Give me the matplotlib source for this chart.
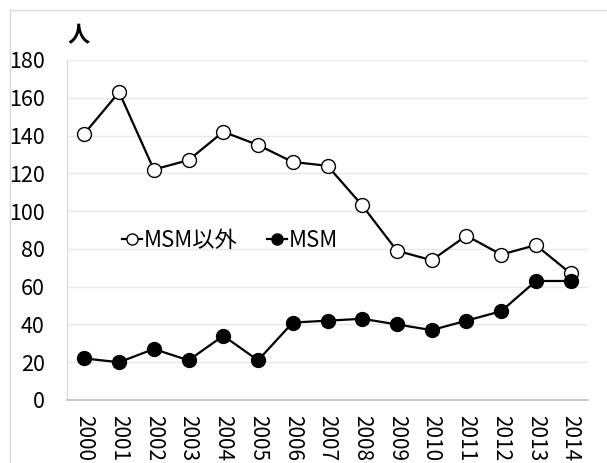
import matplotlib
matplotlib.use('Agg')
import matplotlib.pyplot as plt
from matplotlib.patches import Rectangle

plt.rcParams['font.family'] = ['Noto Sans CJK JP', 'DejaVu Sans']

years = ['2000', '2001', '2002', '2003', '2004', '2005', '2006', '2007',
         '2008', '2009', '2010', '2011', '2012', '2013', '2014']
non_msm = [141, 163, 122, 127, 142, 135, 126, 124, 103, 79, 74, 87, 77, 82, 67]
msm = [22, 20, 27, 21, 34, 21, 41, 42, 43, 40, 37, 42, 47, 63, 63]

W, H = 607, 463
fig = plt.figure(figsize=(W / 100, H / 100), dpi=100)
fig.patches.append(Rectangle((10 / W, -0.1), 1.2, 1 - 10 / H + 0.1, transform=fig.transFigure,
                             fill=False, edgecolor='#d9d9d9', linewidth=1))

ax = fig.add_axes([67 / W, 1 - 400 / H, (588 - 67) / W, 340 / H])
x = range(len(years))
ax.plot(x, non_msm, color='black', linewidth=1.6, marker='o', markersize=10,
        markerfacecolor='white', markeredgecolor='black', markeredgewidth=1, label='MSM以外', zorder=3)
ax.plot(x, msm, color='black', linewidth=1.6, marker='o', markersize=10,
        markerfacecolor='black', markeredgecolor='black', label='MSM', zorder=3)

ax.set_xlim(-0.5, len(years) - 0.5)
ax.set_ylim(0, 180)
ax.set_yticks(range(0, 181, 20))
ax.set_xticks(list(x))
ax.set_xticklabels(years, rotation=270, fontsize=15)
ax.tick_params(axis='y', labelsize=15.5, length=0, pad=16)
ax.tick_params(axis='x', length=0, pad=11)
ax.grid(axis='y', color='#e8e8e8', linewidth=1)
ax.set_axisbelow(True)
for s in ['top', 'right']:
    ax.spines[s].set_visible(False)
ax.spines['left'].set_color('#d9d9d9')
ax.spines['bottom'].set_color('#bfbfbf')
ax.spines['bottom'].set_linewidth(1.2)

fig.text(68 / W, 1 - 36 / H, '人', fontsize=16, fontweight='bold', ha='left', va='center')

ax.legend(loc='center left', bbox_to_anchor=(0.067, 0.47), ncol=2, frameon=False,
          fontsize=16, handlelength=0.9, handletextpad=0.1, columnspacing=1.3,
          markerscale=0.8)

fig.savefig('out.png', dpi=100)
